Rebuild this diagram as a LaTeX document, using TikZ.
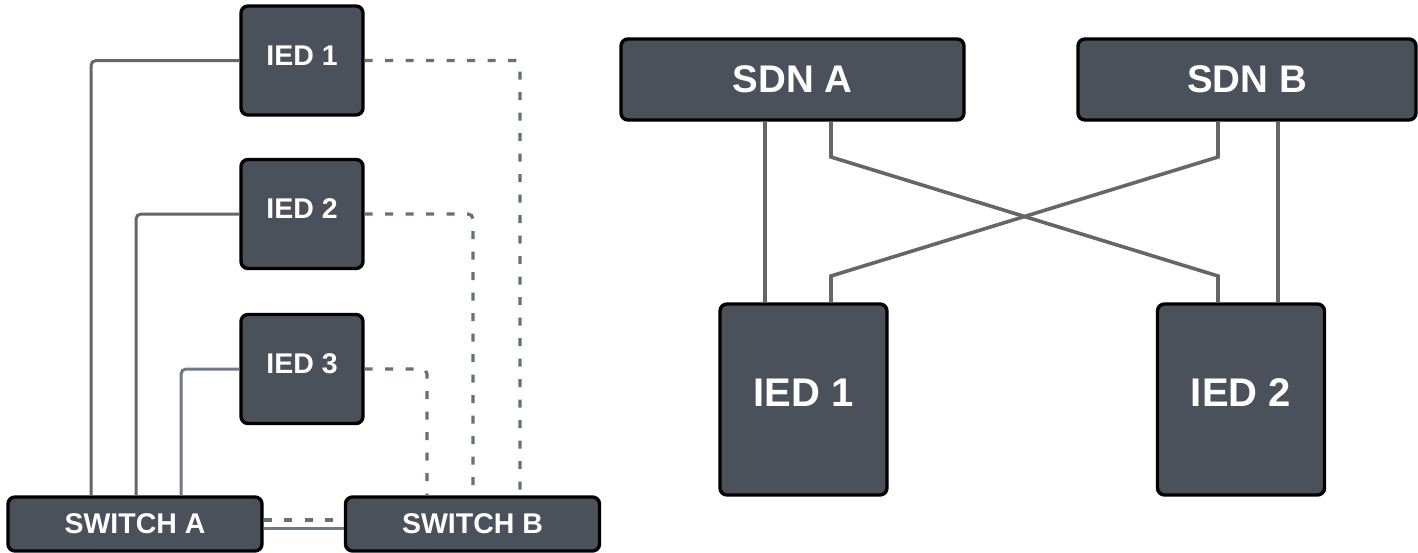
\documentclass[tikz,border=0pt]{standalone}
\usepackage{fontspec}
\setmainfont{Liberation Sans}
\definecolor{boxfill}{HTML}{4B515B}
\definecolor{wire}{HTML}{666666}
\definecolor{bluewire}{HTML}{707786}
\definecolor{dashwire}{HTML}{686E7A}
\begin{document}
\begin{tikzpicture}[x=1pt, y=-1pt,
  box/.style={draw=black, line width=3.4pt, fill=boxfill, rounded corners=7pt,
    text=white, font=\bfseries, inner sep=0pt, align=center},
  smallied/.style={box, minimum width=122pt, minimum height=109pt,
    font=\bfseries\fontsize{28.5}{30}\selectfont, text depth=10pt},
  switchbox/.style={box, minimum width=254pt, minimum height=54pt,
    font=\bfseries\fontsize{28.5}{30}\selectfont},
  sdnbox/.style={box, minimum height=81pt,
    font=\bfseries\fontsize{38.5}{40}\selectfont},
  bigied/.style={box, minimum width=167pt, minimum height=191pt,
    font=\bfseries\fontsize{40}{42}\selectfont, text depth=13pt},
  solidwire/.style={draw=wire, line width=3pt, rounded corners=5pt},
  bluesolid/.style={draw=bluewire, line width=3pt, rounded corners=5pt},
  dashwire/.style={draw=dashwire, line width=3.2pt, rounded corners=5pt,
    dash pattern=on 8pt off 12.5pt},
  xwire/.style={draw=wire, line width=3.6pt, line join=miter}
]
\useasboundingbox (0,0) rectangle (1418,552);

% ---------- left: IEDs on two switches ----------
\node[smallied] (lied1) at (302,60.5) {IED 1};
\node[smallied] (lied2) at (302,214) {IED 2};
\node[smallied] (lied3) at (302,369) {IED 3};
\node[switchbox] (swa) at (135,524) {SWITCH A};
\node[switchbox] (swb) at (472.5,524) {SWITCH B};

% links to switch A
\draw[solidwire]  (lied1.west) -| (91,0 |- swa.north);
\draw[solidwire]  (lied2.west) -| (136,0 |- swa.north);
\draw[bluesolid]  (lied3.west) -| (181,0 |- swa.north);

% links to switch B
\draw[dashwire] (lied1.east) -| (520,0 |- swb.north);
\draw[dashwire] (lied2.east) -| (473,0 |- swb.north);
\draw[dashwire] (lied3.east) -| (427,0 |- swb.north);

% switch-to-switch links
\draw[dashwire]  (swa.east |- 0,520) -- (swb.west |- 0,520);
\draw[bluesolid] (swa.east |- 0,528) -- (swb.west |- 0,528);

% ---------- right: IEDs on two SDN controllers ----------
\node[sdnbox, minimum width=343pt] (sdna) at (792.5,79.5) {SDN A};
\node[sdnbox, minimum width=338pt] (sdnb) at (1247,79.5) {SDN B};
\node[bigied] (ried1) at (803.5,399.5) {IED 1};
\node[bigied] (ried2) at (1241,399.5) {IED 2};

\draw[xwire] (765,0 |- sdna.south) -- (765,0 |- ried1.north);
\draw[xwire] (1278,0 |- sdnb.south) -- (1278,0 |- ried2.north);
\draw[xwire] (831,0 |- sdna.south) -- (831,157) -- (1218,276)
  -- (1218,0 |- ried2.north);
\draw[xwire] (1218,0 |- sdnb.south) -- (1218,157) -- (831,276)
  -- (831,0 |- ried1.north);
\end{tikzpicture}
\end{document}
